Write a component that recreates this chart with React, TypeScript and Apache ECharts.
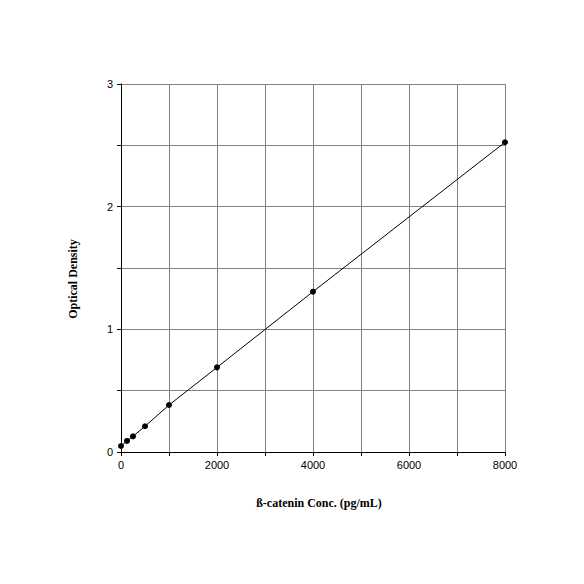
import React, { useEffect, useRef } from "react";
import * as echarts from "echarts";

const concentrations = [0, 125, 250, 500, 1000, 2000, 4000, 8000];
const opticalDensity = [0.049, 0.09, 0.128, 0.21, 0.383, 0.69, 1.307, 2.525];
const xTitle = "ß-catenin Conc. (pg/mL)";
const yTitle = "Optical Density";

export default function App() {
  const ref = useRef<HTMLDivElement>(null);
  useEffect(() => {
    const chart = echarts.init(ref.current!, null, { renderer: "svg" });
    chart.setOption({
      animation: false,
      backgroundColor: "#ffffff",
      grid: { left: 121, right: 79, top: 84, bottom: 132, containLabel: false },
      xAxis: {
        type: "value",
        min: 0,
        max: 8000,
        interval: 1000,
        name: xTitle,
        nameLocation: "middle",
        nameGap: 45,
        nameTextStyle: {
          fontFamily: "Liberation Serif",
          fontWeight: "bold",
          fontSize: 12,
          color: "#000",
          padding: [0, 0, 0, 12],
        },
        axisLine: { show: true, onZero: false, lineStyle: { color: "#000", width: 1 } },
        axisTick: { show: true, length: 4, lineStyle: { color: "#000" } },
        axisLabel: {
          fontFamily: "Liberation Sans",
          fontSize: 11,
          color: "#000",
          margin: 7,
          formatter: (v: number) => (v % 2000 === 0 ? String(v) : ""),
        },
        splitLine: { show: true, lineStyle: { color: "#808080", width: 1 } },
      },
      yAxis: {
        type: "value",
        min: 0,
        max: 3,
        interval: 0.5,
        name: yTitle,
        nameLocation: "middle",
        nameGap: 42,
        nameRotate: 90,
        nameTextStyle: {
          fontFamily: "Liberation Serif",
          fontWeight: "bold",
          fontSize: 12,
          color: "#000",
          padding: [0, 22, 0, 0],
        },
        axisLine: { show: true, onZero: false, lineStyle: { color: "#000", width: 1 } },
        axisTick: { show: true, length: 4, lineStyle: { color: "#000" } },
        axisLabel: {
          fontFamily: "Liberation Sans",
          fontSize: 11,
          color: "#000",
          margin: 8,
          formatter: (v: number) => (Number.isInteger(v) ? String(v) : ""),
        },
        splitLine: { show: true, lineStyle: { color: "#808080", width: 1 } },
      },
      series: [
        {
          type: "line",
          data: concentrations.map((c, i) => [c, opticalDensity[i]]),
          symbol: "circle",
          symbolSize: 6,
          itemStyle: { color: "#000" },
          lineStyle: { color: "#000", width: 1 },
        },
      ],
    });
    return () => chart.dispose();
  }, []);
  return <div ref={ref} style={{ width: 584, height: 584, position: "absolute", left: 0, top: 0 }} />;
}
